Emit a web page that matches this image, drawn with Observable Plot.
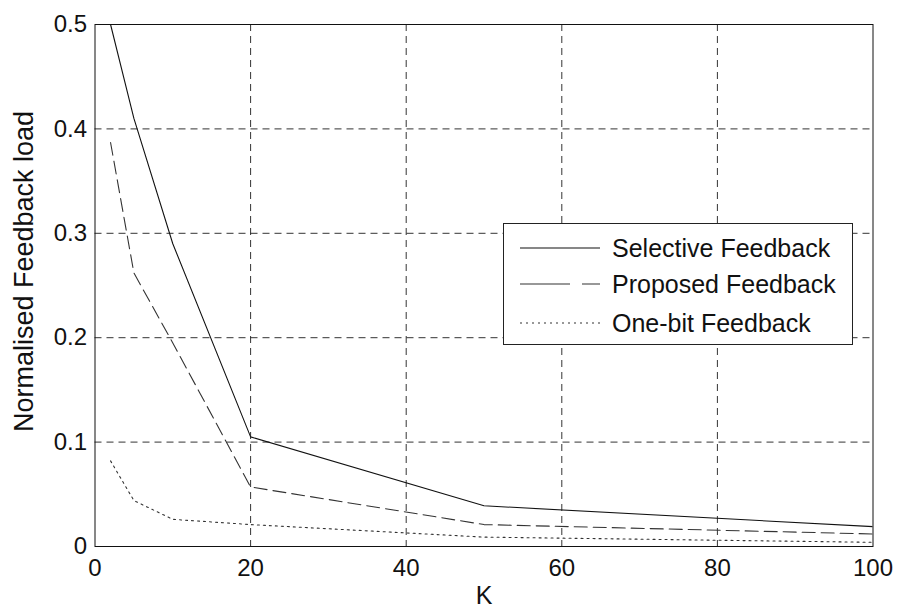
<!DOCTYPE html>
<html>
<head>
<meta charset="utf-8">
<script src="https://cdn.jsdelivr.net/npm/d3@7"></script>
<script src="https://cdn.jsdelivr.net/npm/@observablehq/plot@0.6"></script>
<style>
  html, body { margin: 0; padding: 0; background: #fff; }
  #wrap { position: relative; width: 897px; height: 610px; font-family: "Liberation Sans", Arial, Helvetica, sans-serif; }
  #legend { position: absolute; left: 503px; top: 223px; width: 350px; height: 122px; box-sizing: border-box;
            border: 1px solid #222; background: #fff; }
  #legend .row { position: absolute; left: 0; height: 30px; display: flex; align-items: center; }
  #legend svg { display: block; }
  #legend span { font-size: 25px; color: #111; margin-left: 10px; white-space: nowrap; }
</style>
</head>
<body>
<div id="wrap"></div>
<script>
const K = [2, 5, 10, 20, 50, 100];
const selective = [0.5, 0.41, 0.29, 0.105, 0.039, 0.019];
const proposed = [0.387, 0.262, 0.195, 0.057, 0.021, 0.012];
const onebit = [0.082, 0.044, 0.026, 0.021, 0.009, 0.004];
const seriesNames = ["Selective Feedback", "Proposed Feedback", "One-bit Feedback"];
const xTicks = [0, 20, 40, 60, 80, 100];
const yTicks = [0, 0.1, 0.2, 0.3, 0.4, 0.5];
const dashes = ["none", "13,6", "2,4"];
const strokes = ["#111", "#333", "#333"];

const seriesValues = [selective, proposed, onebit];
const rows = seriesValues.map((vals, si) => K.map((k, i) => ({k, v: vals[i], s: seriesNames[si]})));

const font = "\"Liberation Sans\", Arial, Helvetica, sans-serif";

const chart = Plot.plot({
  width: 897,
  height: 610,
  marginLeft: 94.5,
  marginRight: 24.5,
  marginTop: 24,
  marginBottom: 64,
  style: {fontFamily: font, fontSize: "24px", color: "#111", background: "#fff"},
  x: {domain: [0, 100], ticks: xTicks, label: null},
  y: {domain: [0, 0.5], ticks: yTicks, label: null},
  marks: [
    Plot.gridX(xTicks.slice(1, -1), {stroke: "#111", strokeOpacity: 0.85, strokeDasharray: "7,5", strokeWidth: 1}),
    Plot.gridY(yTicks.slice(1, -1), {stroke: "#111", strokeOpacity: 0.85, strokeDasharray: "7,5", strokeWidth: 1}),
    ...rows.map((r, si) => Plot.line(r, {x: "k", y: "v", stroke: strokes[si], strokeWidth: 1.1, strokeDasharray: dashes[si], clip: true})),
    Plot.frame({stroke: "#111", strokeWidth: 1}),
    Plot.axisX(xTicks, {tickSize: 0, tickPadding: 12, fontSize: 24, label: null}),
    Plot.axisY(yTicks, {tickSize: 0, tickPadding: 8, fontSize: 24, label: null, tickFormat: d => String(d)}),
    Plot.text(["K"], {frameAnchor: "bottom", dy: 57, lineAnchor: "bottom", textAnchor: "middle", fontSize: 25}),
    Plot.text(["Normalised Feedback load"], {frameAnchor: "left", dx: -62, dy: -14, rotate: -90, textAnchor: "middle", fontSize: 27, lineAnchor: "bottom"})
  ]
});

const wrap = document.getElementById("wrap");
wrap.appendChild(chart);

const legend = document.createElement("div");
legend.id = "legend";
const rowTops = [9, 45, 84];
seriesNames.forEach((name, i) => {
  const row = document.createElement("div");
  row.className = "row";
  row.style.top = rowTops[i] + "px";
  row.style.left = "16px";
  const ns = "http://www.w3.org/2000/svg";
  const s = document.createElementNS(ns, "svg");
  s.setAttribute("width", "82"); s.setAttribute("height", "30");
  const l = document.createElementNS(ns, "line");
  l.setAttribute("x1", "0"); l.setAttribute("x2", "80"); l.setAttribute("y1", "15"); l.setAttribute("y2", "15");
  l.setAttribute("stroke", strokes[i]); l.setAttribute("stroke-width", "1.1");
  if (dashes[i] !== "none") l.setAttribute("stroke-dasharray", i === 1 ? "50,12,18" : dashes[i]);
  s.appendChild(l);
  row.appendChild(s);
  const t = document.createElement("span");
  t.textContent = name;
  row.appendChild(t);
  legend.appendChild(row);
});
wrap.appendChild(legend);
</script>
</body>
</html>
